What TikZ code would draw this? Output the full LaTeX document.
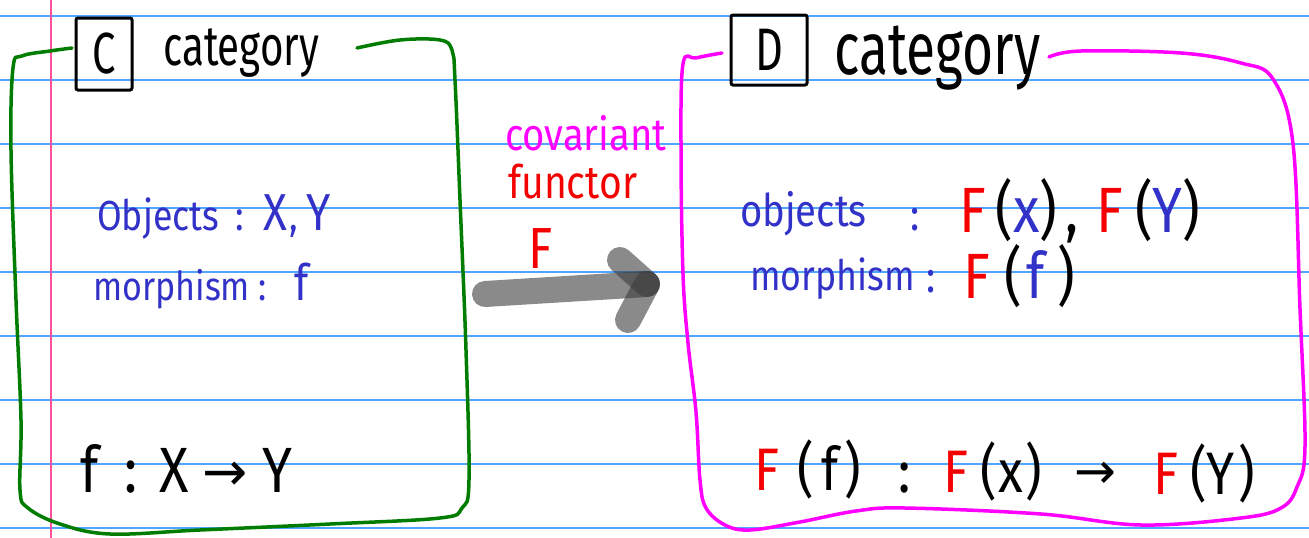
\documentclass[tikz,border=0pt]{standalone}
\usepackage{fontspec}
\setmainfont{Fira Sans}[FakeStretch=0.85]
\newfontfamily\narrowfont{Fira Sans}[FakeStretch=0.72]
\newfontfamily\arrowfont{DejaVu Sans}
\newcommand\myfs[1]{\fontsize{#1}{#1}\selectfont}
\newcommand\hp[1]{\hspace*{#1pt}}
\definecolor{ruleblue}{RGB}{80,165,255}
\definecolor{marginpink}{RGB}{255,80,160}
\definecolor{inkblue}{RGB}{50,50,200}
\definecolor{inkred}{RGB}{245,0,0}
\definecolor{inkgreen}{RGB}{0,125,0}
\definecolor{inkmagenta}{RGB}{255,0,255}
\definecolor{inkgray}{RGB}{60,60,60}
\begin{document}
\begin{tikzpicture}[x=1pt,y=-1pt,
  txt/.style={inner sep=0pt, anchor=base west},
  frame/.style={line width=3.5pt, line cap=round, line join=round},
  letterbox/.style={draw, line width=3pt, inner sep=0pt, rounded corners=2pt},
  stroke/.style={inkgray, opacity=0.6, line width=26pt, line cap=round}]
\useasboundingbox (0,0) rectangle (1309,538);
\fill[white] (0,0) rectangle (1309,538);
\foreach \k in {0,...,8} \draw[ruleblue, line width=2pt] (0,16+64*\k) -- (1309,16+64*\k);
\draw[marginpink, line width=2pt] (51,0) -- (51,538);
% frames
\draw[frame, inkgreen] plot[smooth, tension=0.6] coordinates {(72,48) (50,51) (22,56) (13,68) (11,150) (16,300) (21,420) (20,490) (28,508) (60,524) (110,534) (200,530) (330,524) (440,518) (462,508) (469,480) (466,350) (460,200) (455,80) (452,50) (440,40) (400,40) (357,48)};
\draw[frame, inkmagenta] plot[smooth, tension=0.6] coordinates {(722,53) (696,58) (683,64) (681,150) (683,274) (688,343) (696,412) (700,480) (706,508) (725,525) (750,530) (800,522) (856,511) (905,508) (1041,514) (1141,525) (1241,518) (1281,508) (1297,487) (1305,446) (1300,309) (1293,144) (1273,79) (1241,63) (1181,53) (1081,51) (1049,57)};
% left category
\node[letterbox, minimum width=56pt, minimum height=72pt, font=\narrowfont\myfs{58}] (Cbox) at (104,54) {C};
\node[txt, font=\narrowfont\myfs{56}] (catC) at (163,65) {category};
\node[txt, inkblue, font=\myfs{42}] (objC) at (97,230) {Objects\hp{16}:\hp{20}{\myfs{52}X}\hp{2},\hp{8}{\myfs{52}Y}};
\node[txt, inkblue, font=\myfs{40}] (morC) at (93,300) {morphism\hp{8}:\hp{28}{\myfs{50}f}};
\node[txt, font=\myfs{64}] (mapC) at (80,492) {f\hp{26}:\hp{22}X\hp{14}\raisebox{2pt}{\arrowfont\myfs{54}→}\hp{14}Y};
% functor
\node[txt, inkmagenta, font=\myfs{45}] (cov) at (505,150) {covariant};
\node[txt, inkred, font=\myfs{46}] (fun) at (508,198) {functor};
\node[txt, inkred, font=\myfs{58}] (Fn) at (528,268) {F};
\coordinate (tail) at (485,294);
\coordinate (tip) at (647,284);
\coordinate (barbU) at (620,260);
\coordinate (barbL) at (628,320);
\draw[stroke] (tail) -- (tip);
\draw[stroke] (barbU) -- (tip);
\draw[stroke] (barbL) -- (tip);
% right category
\node[letterbox, minimum width=76pt, minimum height=70pt, font=\narrowfont\myfs{60}] (Dbox) at (769,50) {D};
\node[txt, font=\narrowfont\myfs{74}] (catD) at (834,74) {category};
\node[txt, inkblue, font=\myfs{45}] (objD) at (740,226) {objects};
\node[txt, inkblue, font=\myfs{45}] (colD1) at (910,230) {:};
\node[txt, font=\myfs{64}] (FxFY) at (959,232) {{\color{inkred}F}\hp{10}(\textcolor{inkblue}{x})\hp{8},\hp{18}{\color{inkred}F}\hp{12}(\textcolor{inkblue}{Y})};
\node[txt, inkblue, font=\myfs{42}] (morD) at (750,290) {morphism};
\node[txt, inkblue, font=\myfs{45}] (colD2) at (926,292) {:};
\node[txt, font=\myfs{64}] (Ff) at (963,298) {{\color{inkred}F}\hp{15}(\hp{4}\textcolor{inkblue}{f}\hp{13})};
\node[txt, font=\myfs{60}] (Ff2) at (754,490) {{\color{inkred}F}\hp{18}(\hp{8}f\hp{6})};
\node[txt, font=\myfs{60}] (col3) at (898,492) {:};
\node[txt, font=\myfs{60}] (Fx2) at (943,492) {{\color{inkred}F}\hp{12}(\hp{2}x\hp{2})};
\node[txt, font=\myfs{60}] (arr2) at (1074,488) {{\arrowfont\myfs{50}→}};
\node[txt, font=\myfs{60}] (FY2) at (1153,494) {{\color{inkred}F}\hp{12}(Y\hp{4})};
\end{tikzpicture}
\end{document}
